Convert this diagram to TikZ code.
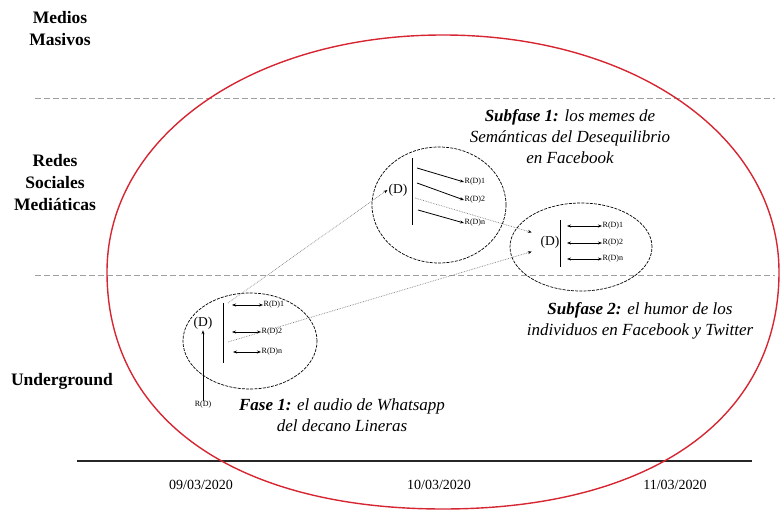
\documentclass[tikz,border=0pt]{standalone}
\usepackage{fontspec}
\setmainfont{Liberation Serif}
\usetikzlibrary{arrows.meta,shapes.geometric}
\definecolor{ringred}{RGB}{214,38,50}
\begin{document}
\begin{tikzpicture}[x=1pt,y=-1pt,
  layer/.style={font=\bfseries\fontsize{17.5}{22}\selectfont, align=center, inner sep=0pt},
  phase/.style={font=\itshape\fontsize{17}{21}\selectfont, align=center, inner sep=0pt},
  datelbl/.style={font=\fontsize{14}{16}\selectfont, inner sep=0pt},
  bubble/.style={draw, ellipse, inner sep=0pt, dash pattern=on 3pt off 1.2pt, line width=0.7pt},
  dnode/.style={font=\fontsize{13.5}{15}\selectfont, inner sep=1pt},
  rlbl/.style={font=\fontsize{8}{9}\selectfont, inner sep=0.5pt, anchor=west},
  rarrow/.style={-{Stealth[length=4pt,width=3pt]}, line width=0.8pt},
  darrow/.style={{Stealth[length=4pt,width=3pt]}-{Stealth[length=4pt,width=3pt]}, line width=0.8pt},
  link/.style={densely dotted, gray, line width=0.7pt, -{Stealth[length=4pt,width=3pt,black]}},
  sep/.style={dash pattern=on 6pt off 3pt, gray!75, line width=0.9pt},
  bar/.style={line width=0.9pt}
]
\useasboundingbox (0,0) rectangle (780,510);

% layer separators and timeline
\coordinate (s1a) at (35,98);  \coordinate (s1b) at (775,98);
\coordinate (s2a) at (35,275); \coordinate (s2b) at (775,275);
\draw[sep] (s1a) -- (s1b);
\draw[sep] (s2a) -- (s2b);
\coordinate (t0) at (77,461); \coordinate (t1) at (752,461);
\draw[line width=1.1pt, black!85] (t0) -- (t1);

% layer names
\node[layer] (lm) at (60,29)  {Medios\\Masivos};
\node[layer] (lr) at (55,183) {Redes\\Sociales\\Mediáticas};
\node[layer] (lu) at (62,381) {Underground};

% dates
\node[datelbl] (d1) at (201,485) {09/03/2020};
\node[datelbl] (d2) at (439,485) {10/03/2020};
\node[datelbl] (d3) at (675,485) {11/03/2020};

% enclosing ring, a little fuller in its lower half
\draw[ringred, line width=1.4pt]
  (107,272) .. controls (107,137) and (251,35) .. (443,35)
            .. controls (635,35) and (779,137) .. (779,272)
            .. controls (779,419) and (651,509) .. (443,509)
            .. controls (235,509) and (107,419) .. (107,272) -- cycle;

% bubbles
\node[bubble, minimum width=134pt, minimum height=96pt]  (b1) at (250,341) {};
\node[bubble, minimum width=134pt, minimum height=116pt] (b2) at (439,205) {};
\node[bubble, minimum width=142pt, minimum height=88pt]  (b3) at (581,247) {};

% phase 1
\node[dnode] (D1) at (203,323) {(D)};
\draw[bar] (223,303) -- (223,363);
\coordinate (a11) at (232,305); \node[rlbl] (r11) at (263,305) {R(D)1};
\coordinate (a12) at (232,332); \node[rlbl] (r12) at (261,332) {R(D)2};
\coordinate (a13) at (233,352); \node[rlbl] (r13) at (261,352) {R(D)n};
\draw[darrow] (a11) -- (r11.west);
\draw[darrow] (a12) -- (r12.west);
\draw[darrow] (a13) -- (r13.west);
\node[rlbl, anchor=center] (r10) at (203,405) {R(D)};
\draw[rarrow] (r10.north) -- (D1.south);

% subphase 1
\node[dnode] (D2) at (398,190) {(D)};
\draw[bar] (412,158) -- (412,225);
\coordinate (a21) at (417,168); \node[rlbl] (r21) at (464,182) {R(D)1};
\coordinate (a22) at (417,183); \node[rlbl] (r22) at (464,200) {R(D)2};
\coordinate (a23) at (418,210); \node[rlbl] (r23) at (464,223) {R(D)n};
\draw[rarrow] (a21) -- (r21.west);
\draw[rarrow] (a22) -- (r22.west);
\draw[rarrow] (a23) -- (r23.west);

% subphase 2
\node[dnode] (D3) at (550,242) {(D)};
\draw[bar] (560,220) -- (560,267);
\coordinate (a31) at (567,226); \node[rlbl] (r31) at (602,226) {R(D)1};
\coordinate (a32) at (567,243); \node[rlbl] (r32) at (602,243) {R(D)2};
\coordinate (a33) at (567,259); \node[rlbl] (r33) at (602,259) {R(D)n};
\draw[darrow] (a31) -- (r31.west);
\draw[darrow] (a32) -- (r32.west);
\draw[darrow] (a33) -- (r33.west);

% propagation links
\coordinate (p1) at (228,303);
\coordinate (p2) at (228,342);
\coordinate (p3) at (415,198);
\draw[link] (p1) -- (D2.west);
\draw[link, shorten >=8pt] (p2) -- (D3.south west);
\draw[link, shorten >=8pt] (p3) -- (D3.north west);

% phase captions
\node[phase] (c2) at (570,137) {\textbf{Subfase 1:} los memes de\\Semánticas del Desequilibrio\\en Facebook};
\node[phase] (c3) at (640,321) {\textbf{Subfase 2:} el humor de los\\individuos en Facebook y Twitter};
\node[phase] (c1) at (342,415) {\textbf{Fase 1:} el audio de Whatsapp\\del decano Lineras};
\end{tikzpicture}
\end{document}
